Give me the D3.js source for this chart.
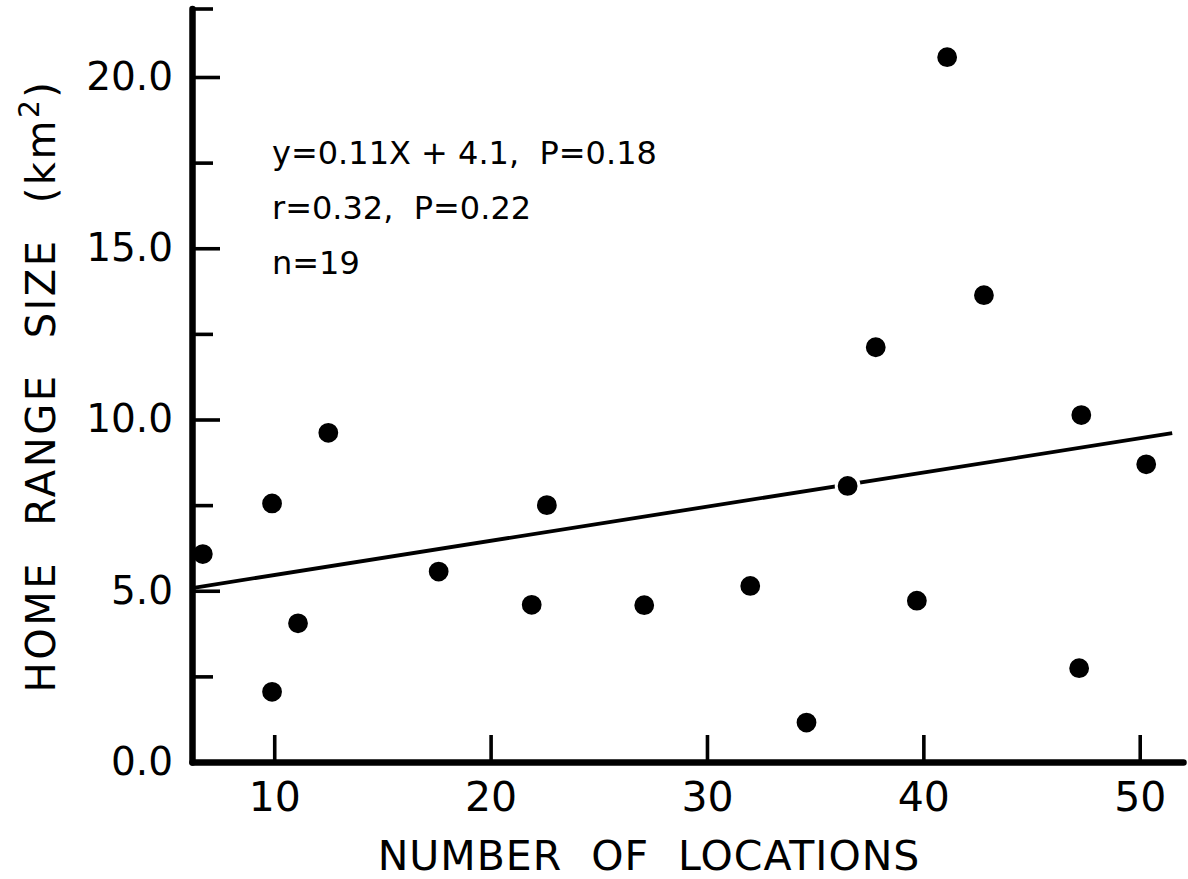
<!DOCTYPE html>
<html>
<head>
<meta charset="utf-8">
<script src="https://cdn.jsdelivr.net/npm/d3@7"></script>
<style>
  body { margin: 0; background: #fff; }
  svg { display: block; font-family: 'DejaVu Sans', sans-serif; }
  .stat { white-space: pre; }
</style>
</head>
<body>
<div id="chart"></div>
<script>
// Data
const locations = [6.7, 9.9, 9.9, 11.1, 12.5, 17.6, 21.9, 22.6, 27.1, 32.0, 34.6, 36.5, 37.8, 39.7, 41.1, 42.8, 47.2, 47.3, 50.3];
const homeRange = [6.07, 7.55, 2.05, 4.05, 9.61, 5.56, 4.59, 7.5, 4.58, 5.14, 1.15, 8.06, 12.11, 4.71, 20.58, 13.63, 2.74, 10.13, 8.69];

// regression line end points as drawn
const fitX = [6.2, 51.5];
const fitY = [5.08, 9.6];

const xTicks = [10, 20, 30, 40, 50];
const yTicks = [0, 5, 10, 15, 20];
const yMinorTicks = [2.5, 7.5, 12.5, 17.5, 22];
const statLines = ['y=0.11X + 4.1,  P=0.18', 'r=0.32,  P=0.22', 'n=19'];

const width = 1188;
const height = 879;

const xScale = d3.scaleLinear([6.2, 52], [192, 1183]);
const yScale = d3.scaleLinear([0, 22], [762, 8.5]);

const svg = d3
  .select('#chart')
  .append('svg')
  .attr('width', width)
  .attr('height', height);

// regression line
svg
  .append('line')
  .attr('x1', xScale(fitX[0]))
  .attr('y1', yScale(fitY[0]))
  .attr('x2', xScale(fitX[1]))
  .attr('y2', yScale(fitY[1]))
  .attr('stroke', '#000')
  .attr('stroke-width', 3.8);

// dots (white rim leaves the small gap in the line)
const points = locations.map((d, i) => ({ x: d, y: homeRange[i] }));
svg
  .append('g')
  .selectAll('circle')
  .data(points)
  .join('circle')
  .attr('cx', (d) => xScale(d.x))
  .attr('cy', (d) => yScale(d.y))
  .attr('r', 11.4)
  .attr('fill', '#000')
  .attr('stroke', '#fff')
  .attr('stroke-width', 3);

// y axis, ticks point inward
const yAxis = svg
  .append('g')
  .attr('transform', `translate(${xScale.range()[0]},0)`)
  .call(d3.axisLeft(yScale).tickValues(yTicks).tickFormat(d3.format('.1f'))
    .tickSize(-28).tickSizeOuter(0).tickPadding(19));

svg
  .append('g')
  .attr('transform', `translate(${xScale.range()[0]},0)`)
  .call(d3.axisLeft(yScale).tickValues(yMinorTicks).tickFormat('')
    .tickSize(-21).tickSizeOuter(0))
  .call((g) => g.select('.domain').remove());

// x axis
const xAxis = svg
  .append('g')
  .attr('transform', `translate(0,${yScale.range()[0]})`)
  .call(d3.axisBottom(xScale).tickValues(xTicks).tickSize(-27).tickSizeOuter(0).tickPadding(20));

svg.selectAll('.tick line').attr('stroke', '#000').attr('stroke-width', 3.6);
svg.selectAll('.domain')
  .attr('stroke', '#000')
  .attr('stroke-width', 6.5)
  .attr('stroke-linecap', 'round');
svg.selectAll('.tick text')
  .attr('fill', '#000')
  .style('font-family', 'DejaVu Sans, sans-serif');
yAxis.selectAll('.tick text').style('font-size', '39px');
xAxis.selectAll('.tick text').style('font-size', '41px');

// axis names
svg
  .append('text')
  .attr('x', 649)
  .attr('y', 870)
  .attr('text-anchor', 'middle')
  .style('font-size', '41px')
  .style('letter-spacing', '1px')
  .style('word-spacing', '15px')
  .text('NUMBER OF LOCATIONS');

const yName = svg
  .append('text')
  .attr('text-anchor', 'middle')
  .attr('transform', 'translate(55,386)rotate(-90)')
  .style('font-size', '40px')
  .style('letter-spacing', '2.5px')
  .style('word-spacing', '20px');
yName.append('tspan').text('HOME RANGE SIZE (km');
yName.append('tspan').attr('dy', -16).style('font-size', '28px').text('2');
yName.append('tspan').attr('dy', 16).text(')');

// regression stats
svg
  .append('g')
  .selectAll('text')
  .data(statLines)
  .join('text')
  .attr('class', 'stat')
  .attr('x', 272)
  .attr('y', (d, i) => 164 + i * 55)
  .style('font-size', '32px')
  .text((d) => d);
</script>
</body>
</html>
